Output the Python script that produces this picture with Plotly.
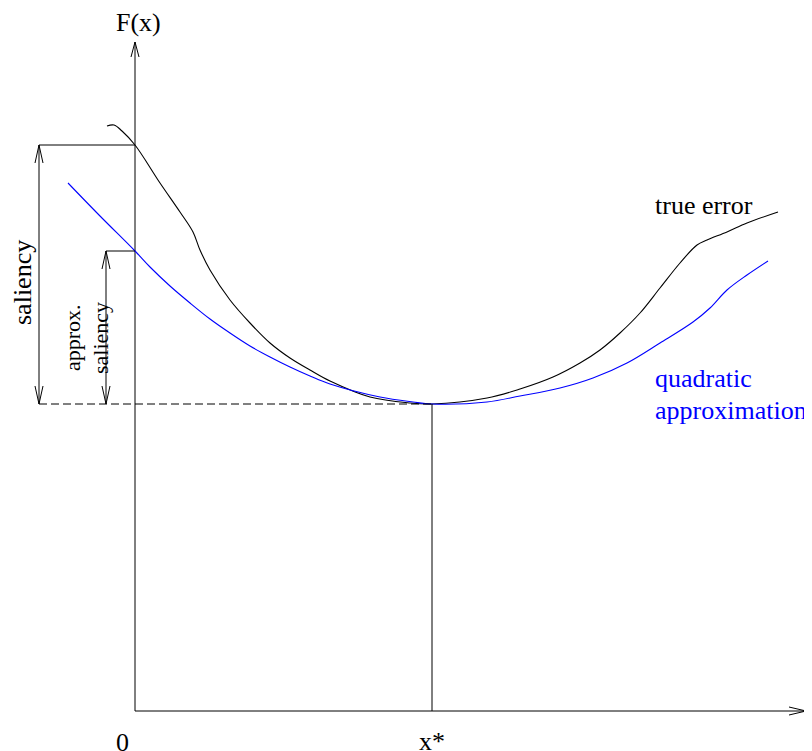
import plotly.graph_objects as go

# ---- data (diagram units: 1 unit ~ 1 px, origin at the axes' corner) ----
true_x = [-28, -21, -13, 0, 25, 45, 58, 65, 75, 95, 115, 135, 155, 175, 195, 235, 275, 297,
          352, 385, 418, 445, 465, 485, 505, 525, 545, 562, 572, 592, 612, 643]
true_y = [585, 586, 580, 566, 528, 499, 479, 461, 441, 411, 388, 368, 353, 341, 330, 314, 308, 307,
          313, 322, 334, 348, 361, 378, 398, 423, 448, 466, 471, 479, 488, 499]

quad_x = [-67, -35, 0, 15, 35, 55, 75, 95, 115, 135, 155, 175, 195, 245, 278, 297,
          352, 385, 425, 458, 492, 525, 558, 575, 592, 612, 633]
quad_y = [528, 495, 460, 444, 425, 408, 392, 378, 365, 354, 344, 335, 327, 314, 309, 307,
          309, 315, 323, 333, 348, 368, 389, 403, 421, 436, 450]

x_star = 297          # location of the minimum
f_min = 307           # F(x*)
f0_true = 566         # F(0), true error
f0_approx = 460       # F(0), quadratic approximation
x_axis_end = 671
y_axis_end = 669
sal_x = -96           # position of the "saliency" dimension arrow
approx_sal_x = -29    # position of the "approx. saliency" dimension arrow

# the page body has an 8px margin, so the figure is 804x743 and the ranges start 8 units in
x_range = [-127, 677]
y_range = [-40, 703]

BLACK = "#000000"
BLUE = "#0000ff"
FONT = "Liberation Serif, Times New Roman, serif"

fig = go.Figure()


def line(xs, ys, color=BLACK, width=1, dash=None, shape="linear"):
    fig.add_trace(go.Scatter(
        x=xs, y=ys, mode="lines",
        line=dict(color=color, width=width, dash=dash, shape=shape, smoothing=1.0),
        hoverinfo="skip", showlegend=False))


def head(tx, ty, dx, dy, length=16, half=4):
    # open "V" arrow head with tip at (tx, ty) pointing along (dx, dy)
    px, py = -dy, dx
    bx, by = tx - dx * length, ty - dy * length
    line([bx + px * half, tx, bx - px * half], [by + py * half, ty, by - py * half])


# axes
line([0, 0], [0, y_axis_end])
head(0, y_axis_end, 0, 1, length=15)
line([0, x_axis_end], [0, 0])
head(x_axis_end, 0, 1, 0, length=17)

# curves
line(true_x, true_y, BLACK, 1.1, shape="spline")
line(quad_x, quad_y, BLUE, 1.1, shape="spline")

# minimum guides
line([sal_x, x_star], [f_min, f_min], dash="8px,4px")
line([x_star, x_star], [0, f_min])

# saliency dimension
line([sal_x, 0], [f0_true, f0_true])
line([sal_x, sal_x], [f_min, f0_true])
head(sal_x, f0_true, 0, 1, length=18)
head(sal_x, f_min, 0, -1, length=18)

# approx saliency dimension
line([approx_sal_x, 0], [f0_approx, f0_approx])
line([approx_sal_x, approx_sal_x], [f_min, f0_approx])
head(approx_sal_x, f0_approx, 0, 1, length=18)
head(approx_sal_x, f_min, 0, -1, length=18)


def text(x, y, s, size=26, color=BLACK, angle=0, xanchor="center", yanchor="middle"):
    fig.add_annotation(x=x, y=y, text=s, showarrow=False, textangle=angle,
                       xanchor=xanchor, yanchor=yanchor,
                       font=dict(family=FONT, size=size, color=color))


text(3, 689, "F(x)")
text(-13, -31, "0")
text(x_star, -30, "x*")
text(518, 506, "true error", xanchor="left")
text(518, 333, "quadratic", color=BLUE, xanchor="left")
text(518, 301, "approximation", color=BLUE, xanchor="left")
text(-113, 428, "saliency", angle=-90)
text(-63, 373, "approx.", size=22, angle=-90)
text(-35, 373, "saliency", size=22, angle=-90)

fig.update_layout(
    width=804, height=743,
    margin=dict(l=0, r=0, t=0, b=0),
    paper_bgcolor="white", plot_bgcolor="white",
    xaxis=dict(range=x_range, visible=False, fixedrange=True),
    yaxis=dict(range=y_range, visible=False, fixedrange=True),
    showlegend=False,
)

fig.write_html("out.html")
